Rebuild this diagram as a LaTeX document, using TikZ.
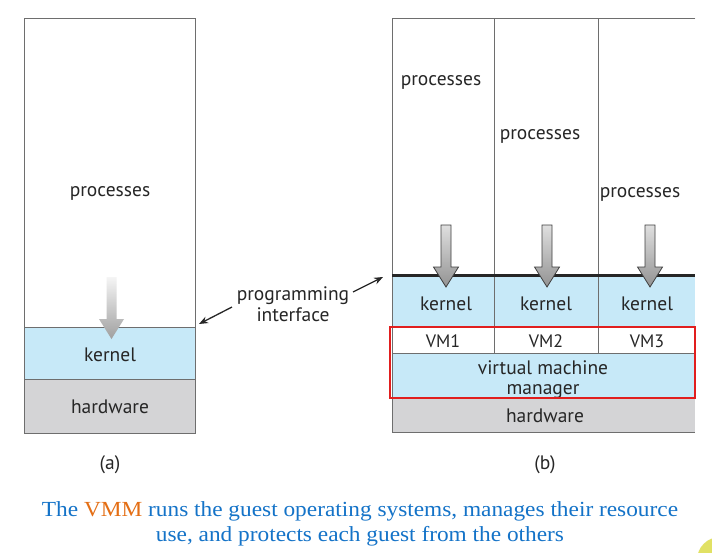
\documentclass[tikz,border=0pt]{standalone}
\usepackage{fontspec}
\setmainfont{PT Sans}
\newfontfamily\capfont[FakeStretch=1.085]{Liberation Serif}
\usetikzlibrary{arrows.meta}
\definecolor{kernblue}{RGB}{199,233,248}
\definecolor{hwgray}{RGB}{212,212,214}
\definecolor{edgegray}{RGB}{110,110,110}
\definecolor{capblue}{RGB}{20,115,200}
\definecolor{caporange}{RGB}{228,110,20}
\definecolor{vmmred}{RGB}{225,30,30}
\definecolor{cornery}{RGB}{225,225,100}
\tikzset{
  x=1pt,y=-1pt,
  lbl/.style={font=\fontsize{19.5}{22}\selectfont, text=black!85, inner sep=0pt},
  vml/.style={lbl, font=\fontsize{18}{20}\selectfont},
  band/.style={rectangle, inner sep=0pt, anchor=north west},
  edge/.style={draw=edgegray, line width=1pt},
  darr/.pic={\path[pic actions] (-5,0) -- (5,0) -- (5,42) -- (12.5,42) -- (0,62) -- (-12.5,42) -- (-5,42) -- cycle;},
  garrA/.style={shade, top color=gray!8, bottom color=gray!75, draw=none},
  garrB/.style={shade, top color=gray!25, bottom color=gray!85, draw=black!75, line width=0.8pt},
  ptr/.style={-{Stealth[length=9pt,width=7pt]}, line width=1.3pt, black!85},
}
\begin{document}
\begin{tikzpicture}
\useasboundingbox[fill=white] (0,0) rectangle (712,552);
% ---------- (a) ----------
\node[band, fill=white, minimum width=171, minimum height=309] (pA) at (24,18) {};
\node[band, fill=kernblue, minimum width=171, minimum height=52] (kA) at (24,327) {};
\node[band, fill=hwgray, minimum width=171, minimum height=54] (hA) at (24,379) {};
\draw[edge] (pA.north west) rectangle (hA.south east);
\draw[edge] (kA.north west) -- (kA.north east);
\draw[edge] (hA.north west) -- (hA.north east);
\node[lbl] (tpA) at (110,193) {processes};
\node[lbl] (tkA) at (110,355) {kernel};
\node[lbl] (thA) at (110,407) {hardware};
\pic[garrA] (arA) at (111.5,277) {darr};
\node[lbl] (la) at (110,465) {(a)};
% ---------- (b) ----------
\node[band, fill=white, minimum width=303, minimum height=257] (pB) at (392,18) {};
\node[band, fill=kernblue, minimum width=303, minimum height=52] (kB) at (392,275) {};
\node[band, fill=white, minimum width=303, minimum height=26] (vB) at (392,327) {};
\node[band, fill=kernblue, minimum width=303, minimum height=45] (mB) at (392,353) {};
\node[band, fill=hwgray, minimum width=303, minimum height=34] (hB) at (392,398) {};
\coordinate (c1) at (494,18);
\coordinate (c2) at (598,18);
\coordinate (c1b) at (494,353);
\coordinate (c2b) at (598,353);
\draw[edge] (pB.north east) -- (pB.north west) -- (hB.south west) -- (hB.south east);
\draw[edge] (c1) -- (c1b);
\draw[edge] (c2) -- (c2b);
\draw[edge] (mB.north west) -- (mB.north east);
\draw[edge] (hB.north west) -- (hB.north east);
\draw[edge] (vB.north west) -- (vB.north east);
\draw[line width=3pt, black!85] (kB.north west) -- (kB.north east);
\node[lbl] (tp1) at (441,82) {processes};
\node[lbl] (tp2) at (540,136) {processes};
\node[lbl] (tp3) at (640,194) {processes};
\node[lbl] (tk1) at (446,304) {kernel};
\node[lbl] (tk2) at (546,304) {kernel};
\node[lbl] (tk3) at (647,304) {kernel};
\node[vml] (tv1) at (443,341) {VM1};
\node[vml] (tv2) at (546,341) {VM2};
\node[vml] (tv3) at (647,341) {VM3};
\node[lbl, align=center, font=\fontsize{19.5}{20}\selectfont] (tm) at (543,380) {virtual machine\\manager};
\node[lbl] (th) at (545,416) {hardware};
\pic[garrB] (ar1) at (446,225) {darr};
\pic[garrB] (ar2) at (547,225) {darr};
\pic[garrB] (ar3) at (650,225) {darr};
\draw[vmmred, line width=2pt] (390,327) rectangle (695,398);
\node[lbl] (lb) at (545,465) {(b)};
% ---------- programming interface ----------
\node[lbl, align=center, font=\fontsize{19.5}{21}\selectfont] (pi) at (293,304) {programming\\interface};
\coordinate (piL) at (232,307);
\coordinate (piR) at (353,292);
\coordinate (tA) at (199,324);
\coordinate (tB) at (383,277);
\draw[ptr] (piL) -- (tA);
\draw[ptr] (piR) -- (tB);
% ---------- caption ----------
\node[inner sep=0pt, align=center, text=capblue, font=\capfont\fontsize{21.5}{25}\selectfont] (cap) at (360,524)
  {The \textcolor{caporange}{VMM} runs the guest operating systems, manages their resource\\use, and protects each guest from the others};
% decoration corner
\fill[cornery] (720,560) circle (23);
\end{tikzpicture}
\end{document}
